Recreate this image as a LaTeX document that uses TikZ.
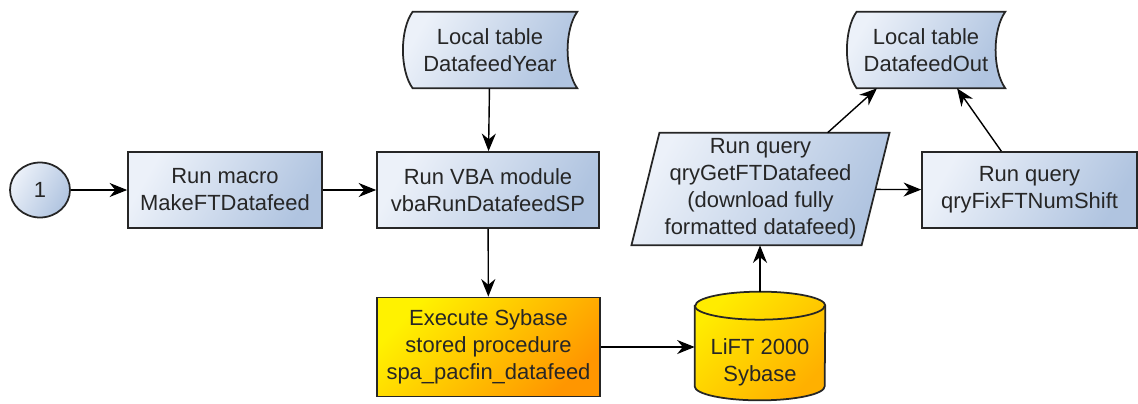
\documentclass[tikz,border=0pt]{standalone}
\usepackage{fontspec}
\setmainfont{Liberation Sans}
\usepackage{xcolor}
\usepackage{tikz}
\usetikzlibrary{shapes.geometric,arrows.meta,calc,backgrounds}

\definecolor{boxlight}{HTML}{ECF1F9}
\definecolor{boxdark}{HTML}{B0C4E0}
\definecolor{sybyellow}{HTML}{FFF200}
\definecolor{syborange}{HTML}{FF9600}
\definecolor{dbyellow}{HTML}{FFEC00}
\definecolor{dborange}{HTML}{FFB000}
\definecolor{edge}{HTML}{262626}

% outline of a local table drawn round node #1
\newcommand{\localtab}[1]{%
  \path[tabshade] ($(#1.north west)+(10,0)$) -- (#1.north east)
    .. controls ($(#1.north east)+(-13,18)$) and ($(#1.south east)+(-13,-18)$) .. (#1.south east)
    -- ($(#1.south west)+(10,0)$)
    .. controls ($(#1.south west)+(-3,-18)$) and ($(#1.north west)+(-3,18)$) .. cycle;}

\begin{document}
\begin{tikzpicture}[x=0.02cm, y=-0.02cm,
    every node/.style={font=\fontsize{12.5}{15.4}\selectfont, text=black!85, align=center},
    blueshade/.style={draw=edge, line width=1pt, top color=boxlight, bottom color=boxdark, shading angle=60},
    procbox/.style={rectangle, blueshade, minimum height=1.52cm, inner sep=0pt},
    startnode/.style={ellipse, blueshade, minimum width=1.2cm, minimum height=1.1cm},
    tabnode/.style={rectangle, minimum height=1.52cm, inner sep=0pt},
    tabshade/.style={blueshade},
    sybbox/.style={rectangle, draw=edge, line width=1pt, top color=sybyellow, bottom color=syborange, shading angle=45,
        minimum width=4.46cm, minimum height=1.98cm, inner sep=0pt},
    dbshade/.style={draw=edge, line width=1pt, top color=dbyellow, bottom color=dborange, shading angle=45},
    flow/.style={-{Stealth[length=10pt,width=8pt]}, line width=0.8pt}]
    \useasboundingbox (0,0) rectangle (1138,403);

    % main line
    \node[startnode] (start) at (40,190) {1};
    \node[procbox, minimum width=3.88cm] (macro) at (225,190) {Run macro\\MakeFTDatafeed};
    \node[procbox, minimum width=4.44cm] (vba) at (488,190) {Run VBA module\\vbaRunDatafeedSP};
    \node[tabnode, minimum width=4.59cm, minimum height=2.24cm] (getft) at (760.5,189)
        {Run query\\qryGetFTDatafeed\\(download fully\\formatted datafeed)};
    \node[procbox, minimum width=4.3cm] (fixshift) at (1029.5,190) {Run query\\qryFixFTNumShift};

    % local tables
    \node[tabnode, minimum width=3.48cm] (yeartab) at (490,50) {Local table\\DatafeedYear};
    \node[tabnode, minimum width=3.16cm] (outtab) at (926,50) {Local table\\DatafeedOut};

    % Sybase side
    \node[sybbox] (sybproc) at (488.5,347) {Execute Sybase\\stored procedure\\spa\_pacfin\_datafeed};
    \node[tabnode, minimum width=2.6cm, minimum height=2.16cm] (lift) at (760,346) {};
    \node (liftname) at ($(lift.center)+(0,16)$) {LiFT 2000\\Sybase};

    \begin{scope}[on background layer]
        \localtab{yeartab}
        \localtab{outtab}
        \path[blueshade] ($(getft.north west)+(14,0)$) -- ($(getft.north east)+(14,0)$)
            -- ($(getft.south east)+(-14,0)$) -- ($(getft.south west)+(-14,0)$) -- cycle;
        % database cylinder
        \path[dbshade] ($(lift.north west)+(0,14)$) -- ($(lift.south west)+(0,-14)$)
            arc[start angle=180, end angle=0, x radius=65, y radius=14]
            -- ($(lift.north east)+(0,14)$)
            arc[start angle=0, end angle=-180, x radius=65, y radius=14] -- cycle;
        \draw[edge, line width=1pt] ($(lift.north west)+(0,14)$)
            arc[start angle=180, end angle=0, x radius=65, y radius=14];
    \end{scope}

    \draw[flow] (start) -- (macro);
    \draw[flow] (macro) -- (vba);
    \draw[flow] (yeartab) -- (vba);
    \draw[flow] (vba) -- (sybproc);
    \draw[flow] (sybproc.east) -- (sybproc.east -| lift.west);
    \draw[flow] (lift.north) -- (lift.north |- getft.south);
    \draw[flow] (getft) -- (fixshift);
    \draw[flow] (getft.40) -- (outtab.-142);
    \draw[flow] (fixshift.126) -- (outtab.-51);
\end{tikzpicture}
\end{document}
